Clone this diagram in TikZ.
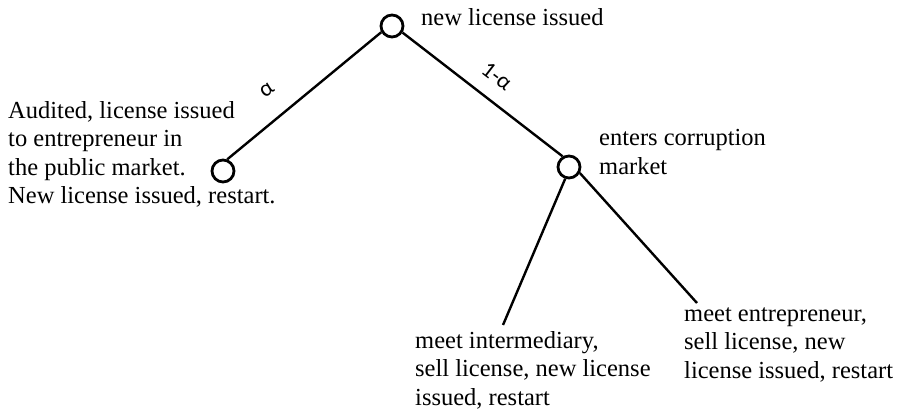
\documentclass[tikz,border=0pt]{standalone}
\usepackage{fontspec}
\setmainfont{Liberation Serif}
\newfontfamily\calfont{Carlito}
\usetikzlibrary{positioning}

\begin{document}
\begin{tikzpicture}[x=0.5pt,y=-0.5pt,
			state/.style={shape=circle,draw,minimum size=11pt,inner sep=0,line width=1.4pt},
			txt/.style={anchor=north west,inner sep=0,align=left,font=\fontsize{12.25}{14.25}\selectfont},
			prob/.style={inner sep=0,font=\calfont\fontsize{11.5}{13}\selectfont},
			line width=1.2pt]
			\useasboundingbox (0,0) rectangle (897,411);
			\node[state] (top) at (392,26) {};
			\node[state] (lft) at (223,171) {};
			\node[state] (rgt) at (569,167) {};
			\coordinate (mi) at (503,325);
			\coordinate (me) at (697,303);
			\draw (top.210) -- (lft.70); \draw (top.328) -- (rgt.121);
			\draw (rgt.252) -- (mi); \draw (rgt.331) -- (me);
			\node[prob,rotate=37.5] (a) at (267,90) {α};
			\node[prob,rotate=-37.5] (b) at (497,76) {1-α};
			\node[txt] (issued) at (420,7) {new license issued};
			\node[txt] (audit) at (7,100) {Audited, license issued\\to entrepreneur in\\the public market.\\New license issued, restart.};
			\node[txt] (corrupt) at (598,128.5) {enters corruption\\market};
			\node[txt] (inter) at (414,330) {meet intermediary,\\sell license, new license\\issued, restart};
			\node[txt] (entre) at (683,306.5) {meet entrepreneur,\\sell license, new\\license issued, restart};
		\end{tikzpicture}
\end{document}
